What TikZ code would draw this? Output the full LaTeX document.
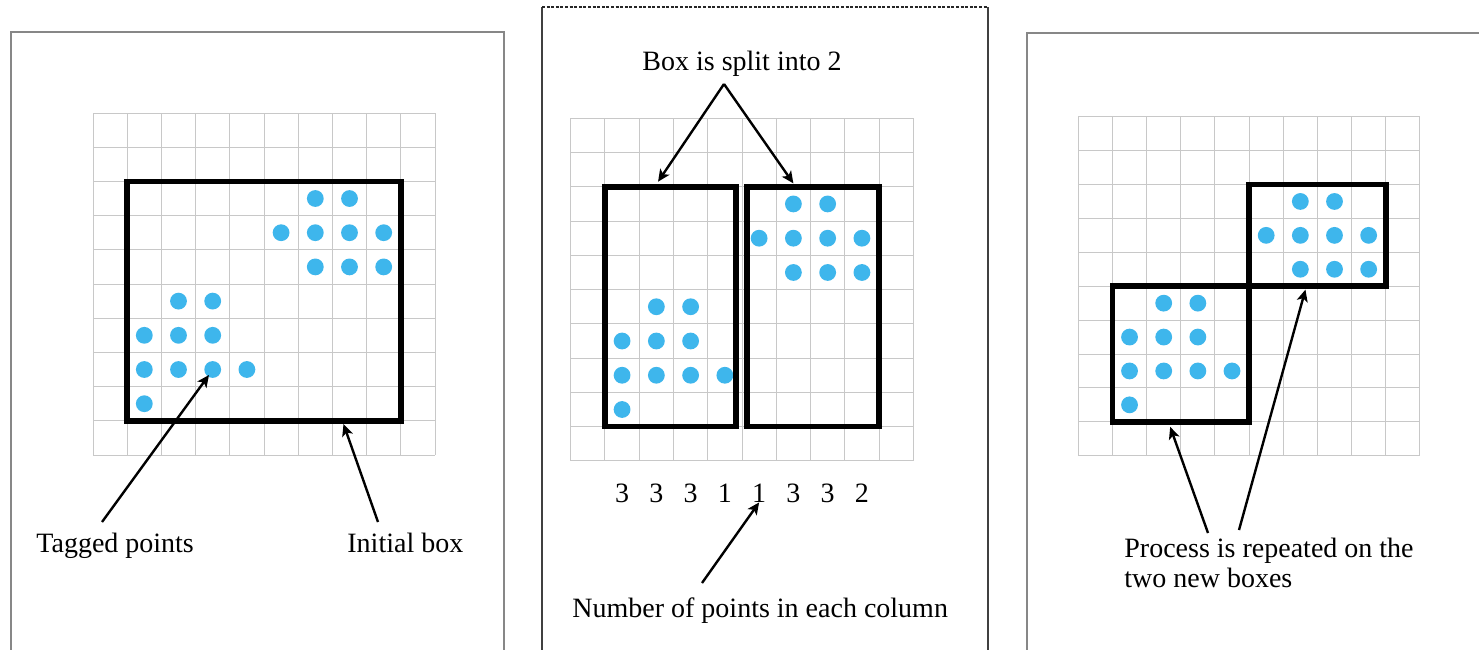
\documentclass[tikz,border=0pt]{standalone}
\usepackage{fontspec}
\setmainfont{Liberation Serif}
\usetikzlibrary{arrows.meta}
\definecolor{dotblue}{RGB}{62,182,236}
\definecolor{gridgray}{RGB}{200,200,200}
\definecolor{framegray}{RGB}{135,135,135}
\tikzset{
  gridline/.style={draw=gridgray, line width=0.5pt},
  tagdot/.style={fill=dotblue},
  bigbox/.style={draw=black, line width=2.8pt, line join=miter},
  callout/.style={draw=black, line width=1.2pt, -{Stealth[length=6pt,width=5.5pt,inset=1.5pt]}},
  lbl/.style={font=\fontsize{14}{15}\selectfont, inner sep=0pt},
  panelframe/.style={draw=framegray, line width=1pt},
  darkframe/.style={draw=black!75, line width=0.8pt},
}
\newcommand\drawgridpanel{%
  \foreach \i in {0,...,10}{%
    \draw[gridline] (\i,0) -- (\i,10);
    \draw[gridline] (0,\i) -- (10,\i);
  }%
  \foreach \c/\r in {6/2,7/2,5/3,6/3,7/3,8/3,6/4,7/4,8/4,
                     2/5,3/5,1/6,2/6,3/6,1/7,2/7,3/7,4/7,1/8}{%
    \fill[tagdot] (\c+0.5,\r+0.5) circle[radius=4.2pt];
  }%
}
\begin{document}
\begin{tikzpicture}[x=0.5pt,y=-0.5pt]
\useasboundingbox (0,0) rectangle (1479,649);
\clip (0,0) rectangle (1479,649);
\fill[white] (0,0) rectangle (1479,649);

% ---------- frames ----------
\draw[panelframe] (11,700) -- (11,32) -- (504,32) -- (504,700);
\draw[darkframe] (542,700) -- (542,7);
\draw[darkframe] (988,7) -- (988,700);
\draw[black!85, line width=1.3pt, dash pattern=on 1.5pt off 0.8pt] (542,7) -- (988,7);
\draw[panelframe] (1027,700) -- (1027,33) -- (1500,33);

% ---------- panel 1 ----------
\begin{scope}[shift={(93,113)}, x=17.1pt, y=-17.1pt]
  \drawgridpanel
  \draw[bigbox] (1,2) rectangle (9,9);
\end{scope}
\node[lbl, anchor=base west] (tagged) at (36,552) {Tagged points};
\node[lbl, anchor=base west] (initial) at (347,552) {Initial box};
\coordinate (tagtail) at (102,522);
\coordinate (tagtip) at (209,375);
\coordinate (inittail) at (378,522);
\coordinate (inittip) at (343.5,424);
\draw[callout] (tagtail) -- (tagtip);
\draw[callout] (inittail) -- (inittip);

% ---------- panel 2 ----------
\begin{scope}[shift={(570.7,118.3)}, x=17.13pt, y=-17.13pt]
  \drawgridpanel
  \draw[bigbox] (1,2) rectangle (4.82,9);
  \draw[bigbox] (5.15,2) rectangle (9,9);
  \coordinate (lefttop) at (2.55,1.85);
  \coordinate (righttop) at (6.5,1.9);
\end{scope}
\node[lbl, anchor=base] (split) at (742,70) {Box is split into 2};
\coordinate (apex) at (724,84);
\draw[callout] (apex) -- (lefttop);
\draw[callout] (apex) -- (righttop);
\foreach \n/\v in {1/3,2/3,3/3,4/1,5/1,6/3,7/3,8/2}{%
  \node[lbl, anchor=base] (d\n) at ({570.7+34.26*(\n+0.5)},502) {\v};
}
\node[lbl, anchor=base west] (numpts) at (572,617) {Number of points in each column};
\coordinate (numtail) at (702,583);
\draw[callout] (numtail) -- (d5.south);

% ---------- panel 3 ----------
\begin{scope}[shift={(1078.3,116.7)}, x=17.08pt, y=-16.95pt]
  \drawgridpanel
  \draw[bigbox] (1,5) rectangle (5,9);
  \draw[bigbox] (5,2) rectangle (9,5);
  \coordinate (lowtip) at (2.69,9.15);
  \coordinate (uptip) at (6.65,5.1);
\end{scope}
\node[lbl, anchor=base west] (proc1) at (1124,557) {Process is repeated on the};
\node[lbl, anchor=base west] (proc2) at (1124,587) {two new boxes};
\coordinate (proctailA) at (1208,533);
\coordinate (proctailB) at (1239,530);
\draw[callout] (proctailA) -- (lowtip);
\draw[callout] (proctailB) -- (uptip);
\end{tikzpicture}
\end{document}
